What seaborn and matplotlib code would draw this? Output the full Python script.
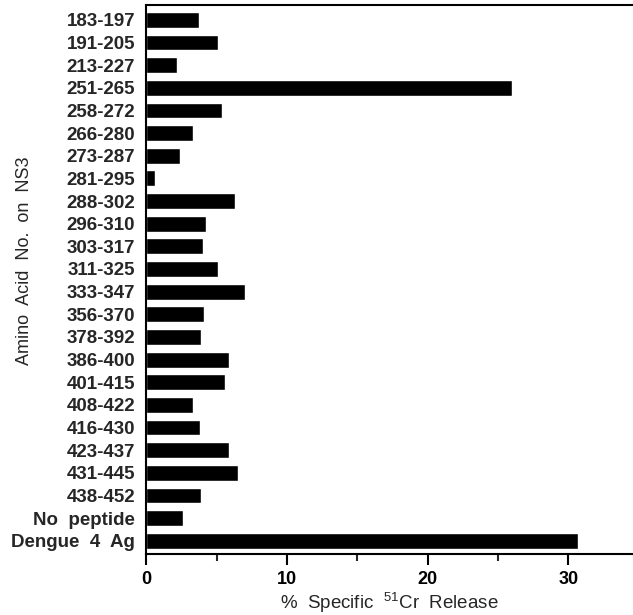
import pandas as pd
import seaborn as sns
import matplotlib.pyplot as plt
from matplotlib.ticker import MultipleLocator

# Peptide (amino acid range on NS3) and % specific 51Cr release
peptides = ['183-197', '191-205', '213-227', '251-265', '258-272', '266-280',
            '273-287', '281-295', '288-302', '296-310', '303-317', '311-325',
            '333-347', '356-370', '378-392', '386-400', '401-415', '408-422',
            '416-430', '423-437', '431-445', '438-452', 'No  peptide', 'Dengue  4  Ag']
release = [3.7, 5.1, 2.2, 26.0, 5.4, 3.3, 2.4, 0.6, 6.3, 4.2, 4.0, 5.1,
           7.0, 4.1, 3.9, 5.9, 5.6, 3.3, 3.8, 5.9, 6.5, 3.9, 2.6, 30.7]

df = pd.DataFrame({'Peptide': peptides, 'Release': release})

sns.set_style('ticks')
plt.rcParams['font.family'] = ['Liberation Sans', 'DejaVu Sans']
plt.rcParams['mathtext.fontset'] = 'custom'
plt.rcParams['mathtext.rm'] = 'Liberation Sans'

fig = plt.figure(figsize=(6.33, 6.15), dpi=100)
ax = fig.add_axes([0.2314, 0.099, 0.7686, 0.893])

sns.barplot(data=df, x='Release', y='Peptide', orient='h', color='black',
            width=0.7, saturation=1, ax=ax)

ax.set_xlim(0, 34.6)
ax.set_ylim(23.59, -0.66)
ax.xaxis.set_major_locator(MultipleLocator(10))
ax.xaxis.set_minor_locator(MultipleLocator(5))
ax.tick_params(axis='x', which='major', length=8, width=1.5, direction='out',
               labelsize=13, pad=4, colors='black')
ax.tick_params(axis='x', which='minor', length=5, width=1.5, direction='out')
ax.tick_params(axis='y', length=0, labelsize=13.5, pad=8)
for lbl in ax.get_yticklabels():
    lbl.set_fontweight('bold')
for lbl in ax.get_xticklabels():
    lbl.set_fontweight('bold')

ax.spines['right'].set_visible(False)
for s in ['left', 'bottom', 'top']:
    ax.spines[s].set_linewidth(1.5)
    ax.spines[s].set_color('black')

ax.set_xlabel('%  Specific  $^{51}$Cr  Release', fontsize=13.5, labelpad=2)
ax.set_ylabel('Amino  Acid  No.  on  NS3', fontsize=13)
ax.yaxis.set_label_coords(-0.234, 0.535)

plt.savefig('out.png', dpi=100)
